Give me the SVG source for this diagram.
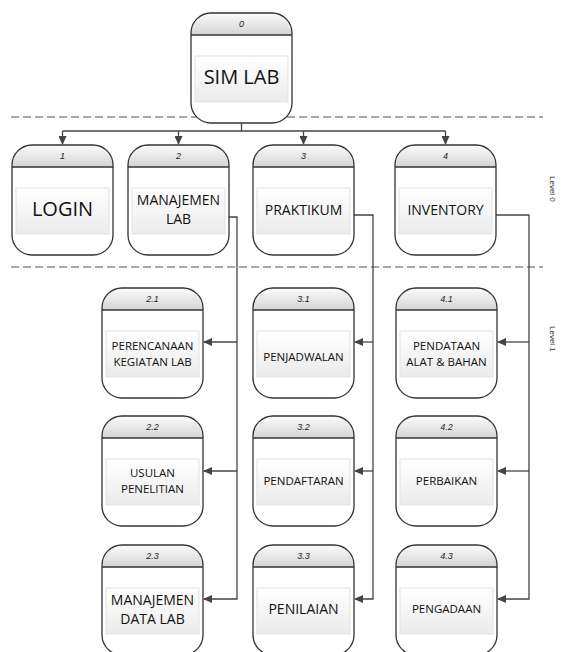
<svg xmlns="http://www.w3.org/2000/svg" xmlns:xlink="http://www.w3.org/1999/xlink" width="561" height="652" viewBox="0 0 561 652">
<style>
.num{font-family:"Liberation Sans",Arial,sans-serif;font-size:9px;font-style:italic;fill:#222;text-anchor:middle}
.t{font-family:"Open Sans","Noto Sans",sans-serif;fill:#111;text-anchor:middle}
.s{font-size:11.5px}
.m{font-size:14px}
.l{font-size:20px}
.lvl{font-family:"Liberation Sans",Arial,sans-serif;font-size:8px;fill:#333}
.con{fill:none;stroke:#444;stroke-width:1.3}
.dash{stroke:#8a8a8a;stroke-width:1.4;stroke-dasharray:8,4;fill:none}
</style>
<defs>
<linearGradient id="hg" x1="0" y1="0" x2="0" y2="1">
<stop offset="0" stop-color="#fbfbfb"/><stop offset="1" stop-color="#d4d4d4"/>
</linearGradient>
<linearGradient id="bg" x1="0" y1="0" x2="0" y2="1">
<stop offset="0" stop-color="#ffffff"/><stop offset="1" stop-color="#ebebeb"/>
</linearGradient>
<marker id="arr" markerWidth="9" markerHeight="8" refX="8" refY="4" orient="auto" markerUnits="userSpaceOnUse">
<path d="M0,0 L9,4 L0,8 Z" fill="#444"/>
</marker>
<g id="shape">
<path d="M0,20 A20,20 0 0 1 20,0 H81 A20,20 0 0 1 101,20 V90 A20,20 0 0 1 81,110 H20 A20,20 0 0 1 0,90 Z" fill="#fff"/>
<path d="M0,22 V20 A20,20 0 0 1 20,0 H81 A20,20 0 0 1 101,20 V22 Z" fill="url(#hg)"/>
<rect x="4" y="43" width="93" height="46" fill="url(#bg)" stroke="#e2e2e2" stroke-width="1"/>
<path d="M0,20 A20,20 0 0 1 20,0 H81 A20,20 0 0 1 101,20 V90 A20,20 0 0 1 81,110 H20 A20,20 0 0 1 0,90 Z" fill="none" stroke="#333" stroke-width="1.3"/>
<line x1="0" y1="22" x2="101" y2="22" stroke="#333" stroke-width="1.3"/>
</g>
</defs>
<rect width="561" height="652" fill="#fff"/>

<line class="dash" x1="11" y1="117" x2="543" y2="117"/>
<line class="dash" x1="11" y1="267" x2="543" y2="267"/>
<text class="lvl" transform="translate(550,176) rotate(90)">Level 0</text>
<text class="lvl" transform="translate(550,326) rotate(90)">Level 1</text>

<g id="connectors">
<path class="con" d="M241.5,123 V131"/>
<path class="con" d="M62.5,131 H445.5"/>
<path class="con" d="M62.5,131 V144" marker-end="url(#arr)"/>
<path class="con" d="M178.5,131 V144" marker-end="url(#arr)"/>
<path class="con" d="M303.5,131 V144" marker-end="url(#arr)"/>
<path class="con" d="M445.5,131 V144" marker-end="url(#arr)"/>

<path class="con" d="M229,217 H237 V599 H204" marker-end="url(#arr)"/>
<path class="con" d="M237,342 H204" marker-end="url(#arr)"/>
<path class="con" d="M237,471 H204" marker-end="url(#arr)"/>

<path class="con" d="M354,215 H373 V599 H355" marker-end="url(#arr)"/>
<path class="con" d="M373,342 H355" marker-end="url(#arr)"/>
<path class="con" d="M373,471 H355" marker-end="url(#arr)"/>

<path class="con" d="M496,215 H529 V599 H498" marker-end="url(#arr)"/>
<path class="con" d="M529,342 H498" marker-end="url(#arr)"/>
<path class="con" d="M529,471 H498" marker-end="url(#arr)"/>
</g>

<g id="n0" transform="translate(191,13)"><use xlink:href="#shape"/><text class="num" x="50.5" y="14">0</text><text class="t l" x="50.5" y="71">SIM LAB</text></g>

<g id="n1" transform="translate(12,145)"><use xlink:href="#shape"/><text class="num" x="50.5" y="14">1</text><text class="t l" x="50.5" y="71">LOGIN</text></g>
<g id="n2" transform="translate(128,145)"><use xlink:href="#shape"/><text class="num" x="50.5" y="14">2</text><text class="t m" x="50.5" y="60">MANAJEMEN</text><text class="t m" x="50.5" y="79">LAB</text></g>
<g id="n3" transform="translate(253,145)"><use xlink:href="#shape"/><text class="num" x="50.5" y="14">3</text><text class="t m" x="50.5" y="70">PRAKTIKUM</text></g>
<g id="n4" transform="translate(395,145)"><use xlink:href="#shape"/><text class="num" x="50.5" y="14">4</text><text class="t m" x="50.5" y="70">INVENTORY</text></g>

<g id="n2_1" transform="translate(102,288)"><use xlink:href="#shape"/><text class="num" x="50.5" y="14">2.1</text><text class="t s" x="50.5" y="61.5">PERENCANAAN</text><text class="t s" x="50.5" y="77.5">KEGIATAN LAB</text></g>
<g id="n2_2" transform="translate(102,416)"><use xlink:href="#shape"/><text class="num" x="50.5" y="14">2.2</text><text class="t s" x="50.5" y="60.5">USULAN</text><text class="t s" x="50.5" y="77">PENELITIAN</text></g>
<g id="n2_3" transform="translate(102,545)"><use xlink:href="#shape"/><text class="num" x="50.5" y="14">2.3</text><text class="t m" x="50.5" y="60">MANAJEMEN</text><text class="t m" x="50.5" y="79">DATA LAB</text></g>

<g id="n3_1" transform="translate(253,288)"><use xlink:href="#shape"/><text class="num" x="50.5" y="14">3.1</text><text class="t s" x="50.5" y="73">PENJADWALAN</text></g>
<g id="n3_2" transform="translate(253,416)"><use xlink:href="#shape"/><text class="num" x="50.5" y="14">3.2</text><text class="t s" x="50.5" y="69">PENDAFTARAN</text></g>
<g id="n3_3" transform="translate(253,545)"><use xlink:href="#shape"/><text class="num" x="50.5" y="14">3.3</text><text class="t m" x="50.5" y="69">PENILAIAN</text></g>

<g id="n4_1" transform="translate(396,288)"><use xlink:href="#shape"/><text class="num" x="50.5" y="14">4.1</text><text class="t s" x="50.5" y="61.5">PENDATAAN</text><text class="t s" x="50.5" y="77.5">ALAT &amp; BAHAN</text></g>
<g id="n4_2" transform="translate(396,416)"><use xlink:href="#shape"/><text class="num" x="50.5" y="14">4.2</text><text class="t s" x="50.5" y="69">PERBAIKAN</text></g>
<g id="n4_3" transform="translate(396,545)"><use xlink:href="#shape"/><text class="num" x="50.5" y="14">4.3</text><text class="t s" x="50.5" y="68">PENGADAAN</text></g>
</svg>
